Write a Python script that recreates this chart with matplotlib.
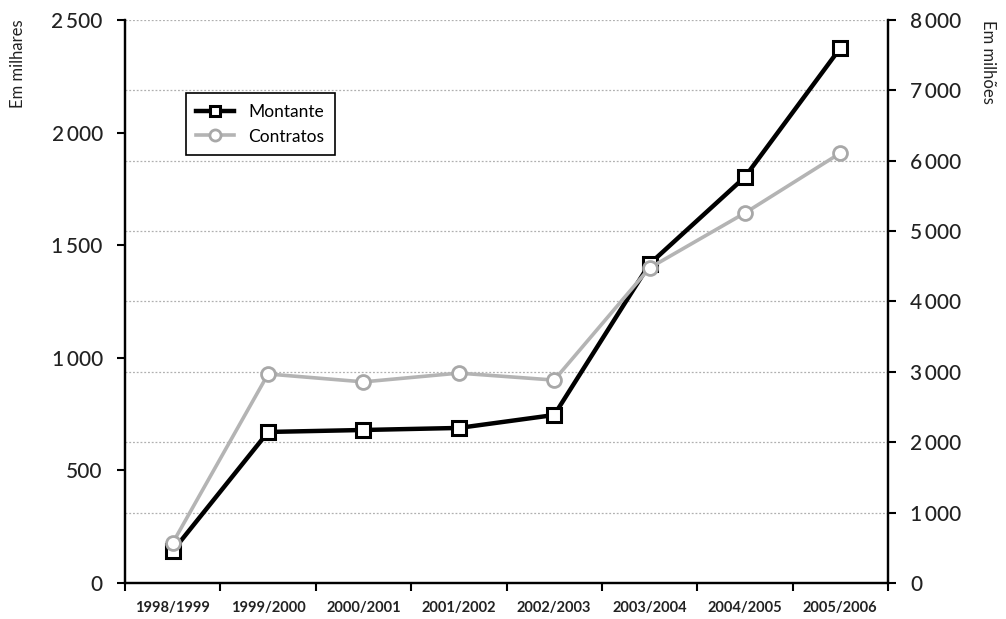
import matplotlib.pyplot as plt
from matplotlib.ticker import FuncFormatter, MultipleLocator

plt.rcParams['font.family'] = ['Lato', 'DejaVu Sans']

anos = ['1998/1999', '1999/2000', '2000/2001', '2001/2002',
        '2002/2003', '2003/2004', '2004/2005', '2005/2006']
# montante em milhoes (eixo da direita), contratos em milhares (eixo da esquerda)
montante = [455, 2146, 2174, 2203, 2387, 4533, 5769, 7602]
contratos = [178, 928, 893, 932, 901, 1399, 1643, 1909]


def milhar(v, pos):
    return f'{int(v):,}'.replace(',', '\u2009')


fig = plt.figure(figsize=(10.06, 6.19), dpi=100)
ax = fig.add_axes([0.1243, 0.0582, 0.7584, 0.9095])
ax2 = ax.twinx()
# contratos desenhados por cima do montante
ax.set_zorder(ax2.get_zorder() + 1)
ax.patch.set_visible(False)

x = range(len(anos))
l1, = ax2.plot(x, montante, color='black', lw=3.2, marker='s', ms=9.5,
               mfc='white', mec='black', mew=2.2, label='Montante')
l2, = ax.plot(x, contratos, color='#b4b4b4', lw=2.6, marker='o', ms=10,
              mfc='white', mec='#a8a8a8', mew=2, label='Contratos')

ax.set_xlim(-0.5, len(anos) - 0.5)
ax.set_ylim(0, 2500)
ax2.set_ylim(0, 8000)
ax.yaxis.set_major_locator(MultipleLocator(500))
ax2.yaxis.set_major_locator(MultipleLocator(1000))
ax.yaxis.set_major_formatter(FuncFormatter(milhar))
ax2.yaxis.set_major_formatter(FuncFormatter(milhar))

ax2.grid(axis='y', color='#b0b0b0', lw=0.9, ls=(0, (1.5, 1.5)))
ax2.set_axisbelow(True)

ax.set_xticks([i - 0.5 for i in range(len(anos) + 1)])
ax.set_xticklabels([])
ax.set_xticks(list(x), minor=True)
ax.set_xticklabels(anos, minor=True, fontsize=10.5, fontweight='bold',
                   color='#222222')
ax.tick_params(axis='x', which='minor', length=0, pad=13)
ax.tick_params(axis='x', which='major', length=6, width=1.5, direction='out')
ax.tick_params(axis='y', length=6, width=1.5, labelsize=15, pad=10,
               labelcolor='#222222')
ax2.tick_params(axis='y', length=6, width=1.5, labelsize=15, pad=10,
                labelcolor='#222222')
for lab in ax.get_yticklabels() + ax2.get_yticklabels():
    lab.set_fontweight('medium')

for a in (ax, ax2):
    a.spines['top'].set_visible(False)
    for s in ('left', 'right', 'bottom'):
        a.spines[s].set_linewidth(1.6)

fig.text(0.010, 0.968, 'Em milhares', rotation=90, fontsize=12,
         ha='left', va='top', color='#222222')
fig.text(0.990, 0.968, 'Em milhões', rotation=-90, fontsize=12,
         ha='right', va='top', color='#222222')

leg = ax.legend(handles=[l1, l2], loc='upper left',
                bbox_to_anchor=(0.068, 0.885), fontsize=12.5,
                fancybox=False, framealpha=1, edgecolor='black',
                handlelength=2.2, borderpad=0.6, labelspacing=0.5,
                markerscale=0.8)
leg.get_frame().set_linewidth(1.2)

fig.savefig('out.png', dpi=100)
